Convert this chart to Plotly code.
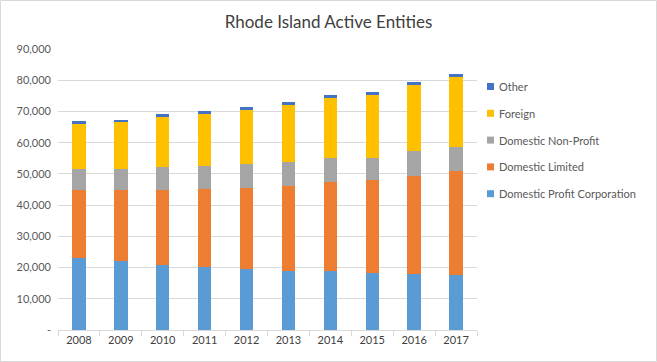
import plotly.graph_objects as go

years = ["2008", "2009", "2010", "2011", "2012", "2013", "2014", "2015", "2016", "2017"]
domestic_profit = [23100, 22100, 20700, 20100, 19400, 18800, 18800, 18200, 17900, 17500]
domestic_limited = [21900, 22800, 24200, 25100, 26100, 27400, 28600, 29900, 31500, 33400]
domestic_nonprofit = [6600, 6700, 7300, 7400, 7700, 7600, 7700, 7000, 8000, 7800]
foreign = [14400, 15100, 16100, 16600, 17300, 18300, 19300, 20200, 21100, 22300]
other = [1000, 600, 900, 1000, 1000, 1000, 900, 1000, 1000, 1100]

tick_vals = [0, 10000, 20000, 30000, 40000, 50000, 60000, 70000, 80000, 90000]
tick_text = ["-", "10,000", "20,000", "30,000", "40,000", "50,000", "60,000", "70,000", "80,000", "90,000"]

series = [
    ("Domestic Profit Corporation", domestic_profit, "#5B9BD5"),
    ("Domestic Limited", domestic_limited, "#ED7D31"),
    ("Domestic Non-Profit", domestic_nonprofit, "#A5A5A5"),
    ("Foreign", foreign, "#FFC000"),
    ("Other", other, "#4472C4"),
]

FONT = "Lato, Liberation Sans, Arial, sans-serif"
W, H = 657, 362
L, R, T, B = 58, 180, 49, 32
pw, ph = W - L - R, H - T - B

fig = go.Figure()
for name, vals, color in series:
    fig.add_trace(go.Bar(x=years, y=vals, name=name, marker=dict(color=color, line=dict(width=0)),
                         showlegend=False))

# custom legend (Excel style: small squares, top item = last series)
shapes = [dict(type="rect", xref="paper", yref="paper",
               x0=(-L + 0.5) / pw, x1=1 + (R - 0.5) / pw,
               y0=(-B + 0.5) / ph, y1=1 + (T - 0.5) / ph,
               line=dict(color="#D9D9D9", width=1), layer="below")]
annotations = []
for k, (name, vals, color) in enumerate(reversed(series)):
    cy = 86.5 + 26.8 * k
    shapes.append(dict(type="rect", xref="paper", yref="paper",
                       x0=(487 - L) / pw, x1=(494 - L) / pw,
                       y0=(H - B - (cy + 3.5)) / ph, y1=(H - B - (cy - 3.5)) / ph,
                       fillcolor=color, line=dict(width=0)))
    annotations.append(dict(text=name, xref="paper", yref="paper", x=(497 - L) / pw,
                            y=(H - B - cy) / ph, xanchor="left", yanchor="middle",
                            showarrow=False, font=dict(family=FONT, size=11, color="#595959")))

fig.update_layout(
    width=W, height=H,
    barmode="stack", bargap=0.68,
    margin=dict(l=L, r=R, t=T, b=B, autoexpand=False),
    paper_bgcolor="white", plot_bgcolor="white",
    font=dict(family=FONT, size=11, color="#595959"),
    title=dict(text="Rhode Island Active Entities", x=0.5, xref="container", xanchor="center",
               y=1 - 22 / H, yanchor="middle",
               font=dict(family=FONT, size=17, color="#404040")),
    showlegend=False,
    xaxis=dict(showgrid=False, showline=True, linecolor="#D9D9D9", linewidth=1,
               ticks="outside", tickson="boundaries", ticklen=5, tickcolor="#D9D9D9",
               tickfont=dict(size=11, color="#404040")),
    yaxis=dict(range=[0, 90000], tickvals=tick_vals, ticktext=tick_text, showgrid=True,
               gridcolor="#D9D9D9", gridwidth=1, zeroline=False, showline=False,
               tickfont=dict(size=11, color="#595959"), ticks="", ticklabelstandoff=6),
    shapes=shapes,
    annotations=annotations,
)

fig.write_html("out.html", config={"displayModeBar": False},
               post_script="document.body.style.margin='0';document.body.style.overflow='hidden';")
